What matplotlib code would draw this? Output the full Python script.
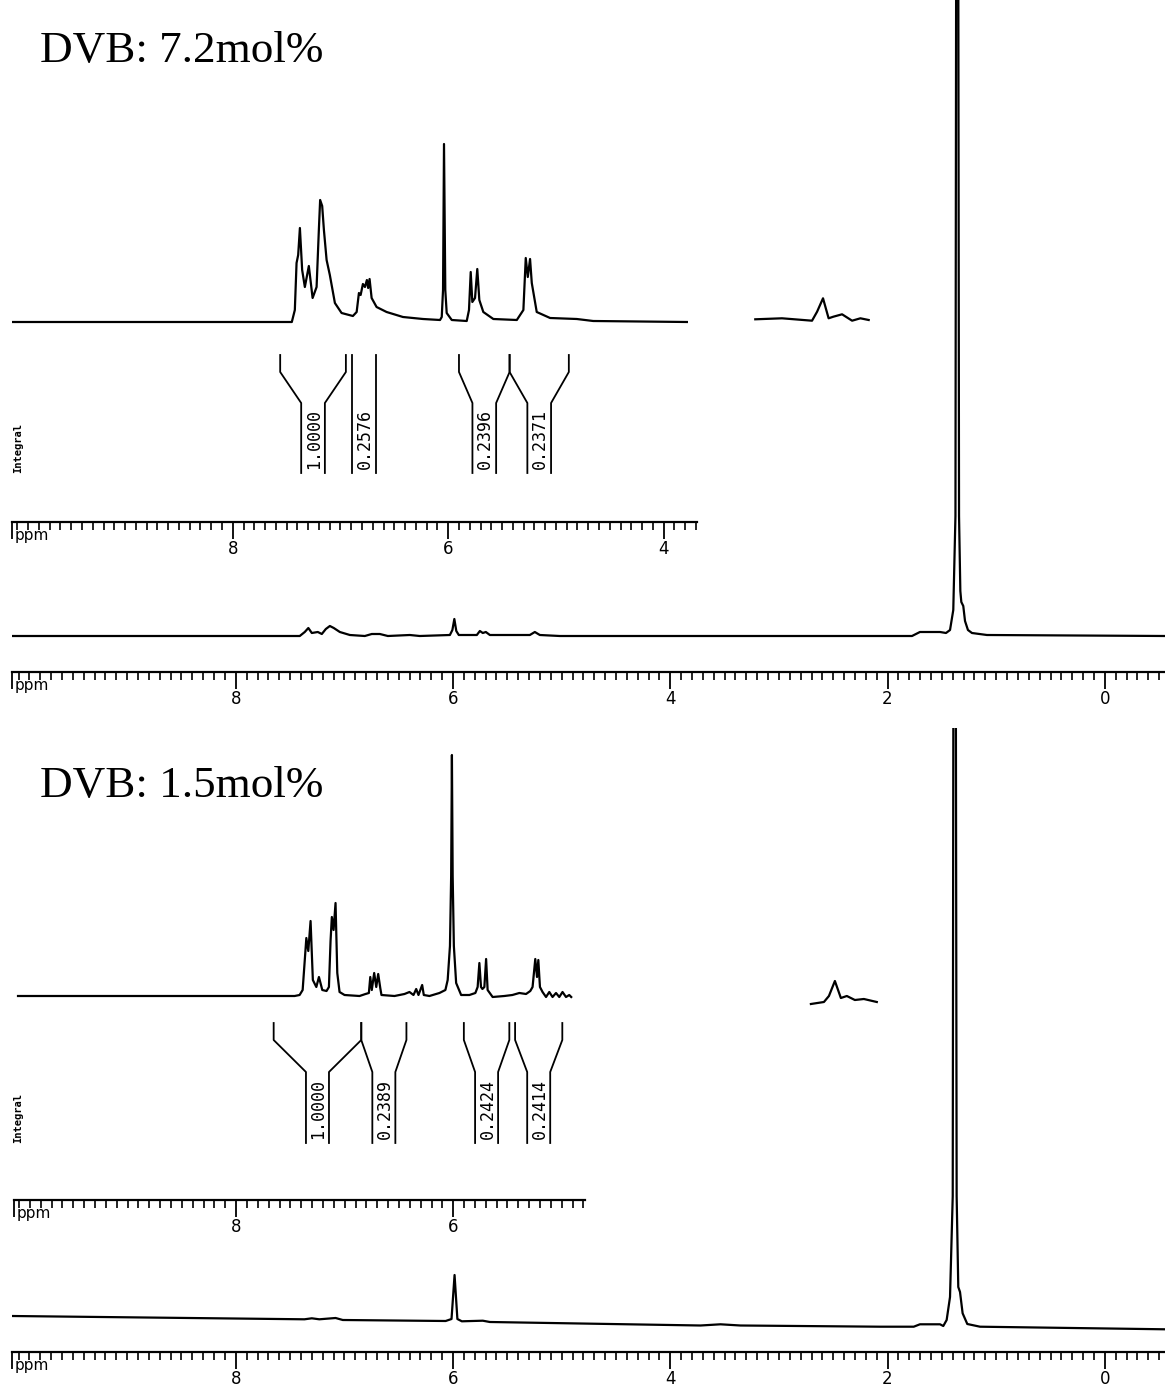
import numpy as np
import matplotlib
matplotlib.use('Agg')
import matplotlib.pyplot as plt
from matplotlib import transforms

W, H = 1165, 1399

# ---------------- DVB 7.2 mol% ----------------
top_ppm = [10.06, 7.411, 7.365, 7.332, 7.300, 7.245, 7.208, 7.171, 7.134, 7.098,
           7.042, 6.950, 6.812, 6.748, 6.674, 6.600, 6.398, 6.306, 6.029, 6.006,
           5.988, 5.970, 5.947, 5.781, 5.753, 5.726, 5.698, 5.661, 5.293, 5.247,
           5.201, 5.017, 1.775, 1.702, 1.517, 1.462, 1.425, 1.395, 1.375, 1.359,
           1.342, 1.330, 1.321, 1.303, 1.287, 1.260, 1.223, 1.085, -0.554]
top_int = [0, 0, 4, 8, 3, 4, 2, 7, 10, 8,
           4, 1, 0, 2, 2, 0, 1, 0, 1, 6,
           17, 5, 1, 1, 5, 3, 4, 1, 1, 4,
           1, 0, 0, 4, 4, 3, 6, 26, 120, 1500,
           120, 45, 34, 30, 15, 6, 3, 1, 0]

top_exp_ppm = [10.05, 7.452, 7.424, 7.408, 7.393, 7.377, 7.356, 7.331, 7.294, 7.259,
               7.222, 7.201, 7.189, 7.170, 7.154, 7.129, 7.099, 7.052, 6.990, 6.885,
               6.850, 6.829, 6.813, 6.792, 6.773, 6.755, 6.743, 6.730, 6.711, 6.665,
               6.572, 6.420, 6.234, 6.076, 6.060, 6.048, 6.039, 6.027, 6.014, 5.967,
               5.828, 5.807, 5.791, 5.776, 5.751, 5.730, 5.711, 5.674, 5.581, 5.363,
               5.302, 5.280, 5.261, 5.240, 5.224, 5.178, 5.054, 4.806, 4.654, 3.784]
top_exp_int = [0, 0, 12, 59, 67, 94, 52, 35, 56, 24,
               35, 92, 122, 116, 92, 62, 47, 19, 9, 6,
               10, 29, 27, 38, 35, 42, 34, 43, 24, 15,
               10, 5, 3, 2, 5, 32, 178, 32, 9, 2,
               1, 12, 50, 20, 24, 53, 22, 10, 3, 2,
               12, 64, 45, 63, 39, 10, 4, 3, 1, 0]

top_frag_ppm = [3.149, 2.901, 2.622, 2.575, 2.520, 2.468, 2.424, 2.343, 2.250, 2.173, 2.096]
top_frag_int = [2.7, 3.7, 1.3, 10.3, 23.7, 3.7, 5.3, 7.7, 1.3, 3.7, 2.0]

top_regions = [(7.56, 6.95), (6.89, 6.67), (5.90, 5.43), (5.43, 4.88)]
top_values = ['1.0000', '0.2576', '0.2396', '0.2371']

# ---------------- DVB 1.5 mol% ----------------
bot_ppm = [10.06, 7.368, 7.300, 7.231, 7.081, 7.015, 6.068, 6.014, 5.986, 5.960,
           5.919, 5.726, 5.661, 3.722, 3.538, 3.354, 2.070, 1.759, 1.702, 1.517,
           1.487, 1.456, 1.425, 1.400, 1.384, 1.364, 1.349, 1.333, 1.309, 1.266,
           1.149, -0.554]
bot_int = [0, -3.3, -2.3, -3.3, -2, -4, -5, -3, 41, -3,
           -5.3, -4.7, -6, -9.5, -8.3, -9.5, -10.7, -10.7, -8.3, -8.3,
           -10, -4, 19, 120, 1500, 120, 29, 24, 2.7, -8,
           -10.7, -13.3]

bot_exp_ppm = [10.009, 7.461, 7.415, 7.387,
               7.353, 7.335, 7.314, 7.293, 7.261, 7.237, 7.206, 7.167, 7.145, 7.130,
               7.118, 7.102, 7.084, 7.068, 7.047, 7.001, 6.863, 6.808, 6.777, 6.764,
               6.750, 6.728, 6.709, 6.691, 6.672, 6.661, 6.541, 6.449, 6.403, 6.366,
               6.341, 6.320, 6.286, 6.271, 6.219, 6.127, 6.072, 6.051, 6.030, 6.019,
               6.012, 6.005, 5.994, 5.973, 5.927, 5.851, 5.796, 5.775, 5.759, 5.744,
               5.731, 5.713, 5.697, 5.683, 5.637, 5.529, 5.455, 5.391, 5.329, 5.290,
               5.269, 5.244, 5.228, 5.216, 5.201, 5.177, 5.145, 5.115, 5.085, 5.053,
               5.023, 4.993, 4.961, 4.931, 4.913]
bot_exp_int = [0, 0, 1, 6,
               58, 45, 75, 16, 9, 19, 6, 5, 9, 55,
               79, 66, 93, 23, 4, 1, 0, 2, 3, 19,
               6, 23, 9, 22, 8, 1, 0, 2, 4, 1,
               7, 1, 11, 1, 0, 3, 6, 16, 50, 120,
               241, 120, 50, 13, 1, 1, 3, 9, 33, 9,
               7, 9, 37, 6, -1, 0, 1, 3, 2, 5,
               9, 37, 19, 36, 9, 4, -1, 4, -1, 3,
               -1, 4, -1, 1, -1]

bot_frag_ppm = [2.705, 2.585, 2.539, 2.484, 2.429, 2.374, 2.300, 2.217, 2.098]
bot_frag_int = [-8, -6, 0, 15, -2, 0, -4, -3, -6]

bot_regions = [(7.654, 6.847), (6.847, 6.431), (5.902, 5.483), (5.430, 4.995)]
bot_values = ['1.0000', '0.2389', '0.2424', '0.2414']

LW = 1.6
fig = plt.figure(figsize=(W / 100, H / 100), dpi=100)


def add_axes(x0, x1, ytop, ybot):
    ax = fig.add_axes([x0 / W, 1 - ybot / H, (x1 - x0) / W, (ybot - ytop) / H])
    ax.patch.set_visible(False)
    for s in ['top', 'left', 'right']:
        ax.spines[s].set_visible(False)
    return ax


def ruler(ax, xlim, majors):
    ax.set_xlim(xlim)
    ax.spines['bottom'].set_linewidth(1.6)
    ax.set_yticks([])
    ax.set_xticks(list(majors) + [xlim[0]])
    ax.set_xticklabels([str(m) for m in majors] + [''])
    lo, hi = min(xlim), max(xlim)
    minors = np.arange(np.ceil(lo * 10), np.floor(hi * 10) + 1) / 10
    ax.set_xticks(minors, minor=True)
    ax.tick_params(axis='x', which='major', direction='out', length=12,
                   width=1.3, labelsize=12, pad=1)
    ax.tick_params(axis='x', which='minor', direction='out', length=6, width=1.2)
    ax.annotate('ppm', xy=(0, 0), xycoords='axes fraction', xytext=(3, -6),
                textcoords='offset pixels', ha='left', va='top', fontsize=11)


def integrals(ax, regions, values, ys, half):
    y_top, y_bend, y_narrow, y_bot = [1 - y / H for y in ys]
    tr = transforms.blended_transform_factory(ax.transData, fig.transFigure)
    for (a, b), v in zip(regions, values):
        c = (a + b) / 2
        straight = abs(a - b) <= 2 * half + 1e-6
        for edge, inner in ((a, c + half), (b, c - half)):
            if straight:
                inner = edge
            ax.plot([edge, edge, inner, inner], [y_top, y_bend, y_narrow, y_bot],
                    color='black', lw=1.3, transform=tr, clip_on=False)
        ax.text(c - 0.01, y_bot + 4 / H, v, rotation=90, ha='center', va='bottom',
                transform=tr, family='DejaVu Sans Mono', fontsize=12)


# ---- top panel ----
ax1 = add_axes(12, W, 0, 672)
ax1.plot(top_ppm, top_int, color='black', lw=LW)
ax1.set_ylim(-36, 636)
ruler(ax1, (10.06, -0.554), [8, 6, 4, 2, 0])

ax1i = add_axes(12, 697, 130, 522)
ax1i.plot(top_exp_ppm, top_exp_int, color='black', lw=LW)
ax1i.plot(top_frag_ppm, top_frag_int, color='black', lw=LW, clip_on=False)
ax1i.set_ylim(-200, 192)
ruler(ax1i, (10.05, 3.69), [8, 6, 4])
integrals(ax1i, top_regions, top_values, (355, 372, 403, 473), 0.11)

fig.text(18 / W, 1 - 473 / H, 'Integral', rotation=90, ha='center', va='bottom',
         family='DejaVu Sans Mono', fontsize=7.5, weight='bold')
fig.text(40 / W, 1 - 62 / H, 'DVB: 7.2mol%', family='Liberation Serif',
         fontsize=32.5, va='baseline')

# ---- bottom panel ----
ax2 = add_axes(12, W, 728, 1352)
ax2.plot(bot_ppm, bot_int, color='black', lw=LW)
ax2.set_ylim(-36, 588)
ruler(ax2, (10.06, -0.554), [8, 6, 4, 2, 0])

ax2i = add_axes(14, 585, 740, 1200)
ax2i.plot(bot_exp_ppm, bot_exp_int, color='black', lw=LW)
ax2i.plot(bot_frag_ppm, bot_frag_int, color='black', lw=LW, clip_on=False)
ax2i.set_ylim(-204, 256)
ruler(ax2i, (10.046, 4.786), [8, 6])
integrals(ax2i, bot_regions, bot_values, (1023, 1040, 1072, 1143), 0.106)

fig.text(18 / W, 1 - 1143 / H, 'Integral', rotation=90, ha='center', va='bottom',
         family='DejaVu Sans Mono', fontsize=7.5, weight='bold')
fig.text(40 / W, 1 - 797 / H, 'DVB: 1.5mol%', family='Liberation Serif',
         fontsize=32.5, va='baseline')

fig.savefig('out.png', dpi=100)
